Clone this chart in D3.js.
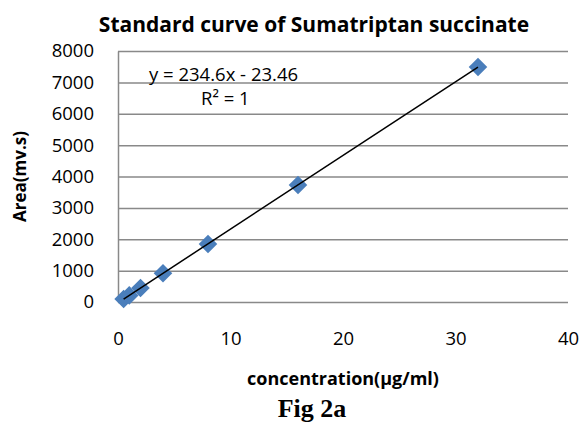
<!DOCTYPE html>
<html>
<head>
<meta charset="utf-8">
<script src="https://cdn.jsdelivr.net/npm/d3@7"></script>
<style>
  body { margin: 0; background: #fff; }
  svg { display: block; font-family: "Open Sans", sans-serif; }
</style>
</head>
<body>
<div id="chart-area"></div>
<script>
// data
var concentration = [0.5, 1, 2, 4, 8, 16, 32];
var area = [95, 210, 445, 915, 1850, 3730, 7490];
var xTicks = [0, 10, 20, 30, 40];
var yTicks = [0, 1000, 2000, 3000, 4000, 5000, 6000, 7000, 8000];
var equationText = "y = 234.6x - 23.46";
var r2Text = "R² = 1";

var outerWidth = 582;
var outerHeight = 424;
var margin = {left: 118, right: 14, top: 51, bottom: 122};
var innerWidth = outerWidth - margin.left - margin.right;
var innerHeight = outerHeight - margin.top - margin.bottom;

var svg = d3.select('#chart-area').append('svg')
            .attr('width', outerWidth)
            .attr('height', outerHeight);

svg.append('rect')
   .attr('width', outerWidth)
   .attr('height', outerHeight)
   .attr('fill', '#fff');

var g = svg.append('g')
           .attr('transform', 'translate(' + margin.left + ',' + margin.top + ')');

var xScale = d3.scaleLinear().domain([0, 40]).range([0, innerWidth]);
var yScale = d3.scaleLinear().domain([0, 8000]).range([innerHeight, 0]);

// y axis with gridlines
var yAxisG = g.append('g')
              .attr('class', 'y axis')
              .call(d3.axisLeft(yScale)
                      .tickValues(yTicks)
                      .tickFormat(d3.format('d'))
                      .tickSizeInner(-innerWidth)
                      .tickSizeOuter(0)
                      .tickPadding(24));
yAxisG.selectAll('line').attr('stroke', '#898989').attr('stroke-width', 1.5);
yAxisG.select('.domain').attr('stroke', '#898989').attr('stroke-width', 1.5);
yAxisG.selectAll('text')
      .attr('font-size', '18.5px')
      .attr('font-family', '"Open Sans", sans-serif')
      .attr('fill', '#000');

// x axis, labels only
var xAxisG = g.append('g')
              .attr('class', 'x axis')
              .attr('transform', 'translate(0,' + innerHeight + ')')
              .call(d3.axisBottom(xScale)
                      .tickValues(xTicks)
                      .tickFormat(d3.format('d'))
                      .tickSize(0)
                      .tickPadding(30));
xAxisG.select('.domain').remove();
xAxisG.selectAll('text')
      .attr('font-size', '18.5px')
      .attr('font-family', '"Open Sans", sans-serif')
      .attr('fill', '#000');

// linear trendline (least squares)
var points = concentration.map(function(c, i) { return {x: c, y: area[i]}; });
var mx = d3.mean(points, function(d) { return d.x; });
var my = d3.mean(points, function(d) { return d.y; });
var slope = d3.sum(points, function(d) { return (d.x - mx) * (d.y - my); }) /
            d3.sum(points, function(d) { return (d.x - mx) * (d.x - mx); });
var intercept = my - slope * mx;
var xExt = d3.extent(concentration);

var line = d3.line()
             .x(function(d) { return xScale(d); })
             .y(function(d) { return yScale(slope * d + intercept); });

// markers
g.selectAll('.pt')
 .data(points)
 .enter().append('path')
 .attr('class', 'pt')
 .attr('transform', function(d) { return 'translate(' + xScale(d.x) + ',' + yScale(d.y) + ')'; })
 .attr('d', d3.symbol().type(d3.symbolDiamond2).size(220))
 .attr('fill', '#4a7ebb');

g.append('path')
 .attr('class', 'trend')
 .attr('d', line(xExt))
 .attr('fill', 'none')
 .attr('stroke', '#000')
 .attr('stroke-width', 1.5);

// equation labels
svg.append('text')
   .attr('x', 149)
   .attr('y', 81)
   .attr('font-size', '18.5px')
   .text(equationText);

svg.append('text')
   .attr('x', 201)
   .attr('y', 105)
   .attr('font-size', '18.5px')
   .text(r2Text);

// title
svg.append('text')
   .attr('x', 314)
   .attr('y', 32)
   .attr('text-anchor', 'middle')
   .attr('font-size', '21px')
   .attr('font-weight', 'bold')
   .text('Standard curve of Sumatriptan succinate');

// axis titles
svg.append('text')
   .attr('transform', 'rotate(-90)')
   .attr('x', -(margin.top + innerHeight / 2))
   .attr('y', 26)
   .attr('text-anchor', 'middle')
   .attr('font-size', '17px')
   .attr('font-weight', 'bold')
   .text('Area(mv.s)');

svg.append('text')
   .attr('x', margin.left + innerWidth / 2)
   .attr('y', 385)
   .attr('text-anchor', 'middle')
   .attr('font-size', '18px')
   .attr('font-weight', 'bold')
   .text('concentration(µg/ml)');

// caption
svg.append('text')
   .attr('x', 312)
   .attr('y', 417)
   .attr('text-anchor', 'middle')
   .attr('font-family', '"Liberation Serif", "Times New Roman", serif')
   .attr('font-size', '26px')
   .attr('font-weight', 'bold')
   .text('Fig 2a');
</script>
</body>
</html>
